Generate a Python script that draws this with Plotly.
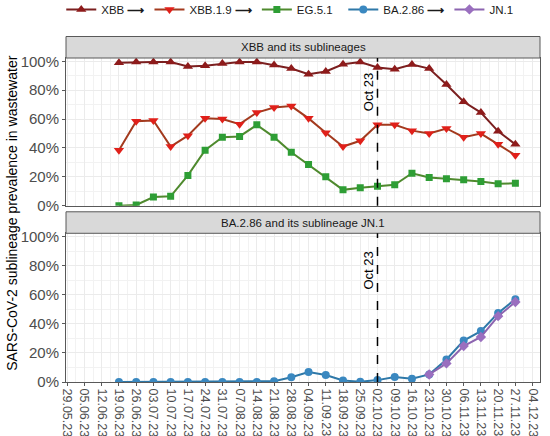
import plotly.graph_objects as go

# weekly sampling dates
dates = ["2023-06-19", "2023-06-26", "2023-07-03", "2023-07-10", "2023-07-17", "2023-07-24",
         "2023-07-31", "2023-08-07", "2023-08-14", "2023-08-21", "2023-08-28", "2023-09-04",
         "2023-09-11", "2023-09-18", "2023-09-25", "2023-10-02", "2023-10-09", "2023-10-16",
         "2023-10-23", "2023-10-30", "2023-11-06", "2023-11-13", "2023-11-20", "2023-11-27"]

# top panel: XBB and its sublineages (%)
xbb = [99, 99.5, 99.5, 99.5, 96.5, 97, 98.5, 99.5, 99.5, 97.5, 95, 91,
       93, 98, 99.5, 95.7, 94.5, 97.8, 95, 84, 72, 64.5, 51.5, 42.5]
xbb_1_9 = [38.5, 58.5, 59, 41, 48.5, 60.5, 60, 56.5, 64.5, 68, 69, 60.5,
           50.5, 41, 45, 56, 56, 52, 50, 53.5, 47.5, 50, 42.5, 35]
eg_5_1 = [0, 0.5, 6, 6.5, 21, 38.5, 47.5, 48, 56, 47.5, 37, 28.5,
          20, 11, 12.5, 13.5, 14.5, 22.5, 19.5, 18.7, 18, 16.8, 15.3, 15.5]

# bottom panel: BA.2.86 and JN.1 (%)
ba_2_86 = [0, 0, 0, 0, 0, 0, 0, 0, 0, 0.5, 3.3, 6.8,
           4.8, 1.1, 0.2, 1.3, 3.4, 2.2, 5.2, 15.5, 28.5, 35, 47.5, 57]
jn1_dates = dates[18:]
jn_1 = [5.2, 12.8, 24.7, 31, 45.3, 55]

oct_marker = "2023-10-02"
oct_label = "Oct 23"
strip_labels = ["XBB and its sublineages", "BA.2.86 and its sublineage JN.1"]
y_title = "SARS-CoV-2 sublineage prevalence in wastewater"

ARROW = " <b>⟶</b>"
FONT = "Liberation Sans, Arial, sans-serif"

series = [
    # name, x, y, line colour, marker colour, symbol, size, axis, legend
    ("XBB" + ARROW, dates, xbb, "#7B1F1F", "#8E1B1B", "triangle-up", 9, "1", "legend"),
    ("XBB.1.9" + ARROW, dates, xbb_1_9, "#A33A1E", "#E0201A", "triangle-down", 9, "1", "legend"),
    ("EG.5.1", dates, eg_5_1, "#4F8A2E", "#2E9E35", "square", 7, "1", "legend"),
    ("BA.2.86" + ARROW, dates, ba_2_86, "#2E78A8", "#3A88C0", "circle", 8, "2", "legend2"),
    ("JN.1", jn1_dates, jn_1, "#8C64B0", "#9A6FBF", "diamond", 8, "2", "legend2"),
]

fig = go.Figure()
for name, xs, ys, lc, mc, sym, size, ax, leg in series:
    fig.add_trace(go.Scatter(
        x=xs, y=ys, name=name, mode="lines+markers",
        line=dict(color=lc, width=2),
        marker=dict(color=mc, symbol=sym, size=size, line=dict(width=0)),
        xaxis="x" if ax == "1" else "x2", yaxis="y" if ax == "1" else "y2",
        legend=leg,
    ))

grid = "#EBEBEB"
border = "#595959"
tick_font = dict(family=FONT, size=12.5, color="#4D4D4D")

xcommon = dict(
    type="date", range=["2023-05-28 12:00", "2023-12-07"],
    tick0="2023-05-29", dtick=7 * 86400000, tickformat="%d.%m.%y",
    showgrid=True, gridcolor=grid, gridwidth=1,
    minor=dict(tick0="2023-05-29", dtick=3.5 * 86400000, showgrid=True,
               gridcolor="#F2F2F2", gridwidth=0.6, ticks=""),
    showline=True, mirror=True, linecolor=border, linewidth=1,
    zeroline=False,
)
ycommon = dict(
    range=[0, 102.3], tick0=0, dtick=20, ticksuffix="%",
    showgrid=True, gridcolor=grid, gridwidth=1,
    minor=dict(dtick=10, showgrid=True, gridcolor="#F2F2F2", gridwidth=0.6, ticks=""),
    ticks="outside", ticklen=3, tickcolor=border,
    showline=True, mirror=True, linecolor=border, linewidth=1,
    zeroline=False, tickfont=dict(family=FONT, size=15, color="#4D4D4D"),
)

top_dom = [0.544, 1.0]
bot_dom = [0.0, 0.459]

legend_font = dict(family=FONT, size=11.5, color="#1A1A1A")
fig.update_layout(
    width=550, height=436,
    margin=dict(l=66, r=10, t=58, b=54, autoexpand=False),
    paper_bgcolor="white", plot_bgcolor="white",
    font=dict(family=FONT, color="#1A1A1A"),
    xaxis=dict(xcommon, anchor="y", domain=[0, 1], showticklabels=False, ticks="", matches="x2"),
    xaxis2=dict(xcommon, anchor="y2", domain=[0, 1], ticks="outside", ticklen=3,
                tickcolor=border, tickangle=90, tickfont=tick_font),
    yaxis=dict(ycommon, anchor="x", domain=top_dom),
    yaxis2=dict(ycommon, anchor="x2", domain=bot_dom),
    legend=dict(orientation="h", x=-0.01, y=1.15, xanchor="left", yanchor="middle",
                bgcolor="rgba(0,0,0,0)", itemwidth=30, font=legend_font),
    legend2=dict(orientation="h", x=0.585, y=1.15, xanchor="left", yanchor="middle",
                 bgcolor="rgba(0,0,0,0)", itemwidth=30, font=legend_font),
    showlegend=True,
)

# facet strips
strip_h = 21.5 / 324
for label, dom in zip(strip_labels, [top_dom, bot_dom]):
    fig.add_shape(type="rect", xref="paper", yref="paper", x0=0, x1=1,
                  y0=dom[1], y1=dom[1] + strip_h,
                  fillcolor="#D9D9D9", line=dict(color=border, width=1))
    fig.add_annotation(text=label, xref="paper", yref="paper", x=0.5,
                       y=dom[1] + strip_h / 2, showarrow=False,
                       xanchor="center", yanchor="middle",
                       font=dict(family=FONT, size=11.5, color="#1A1A1A"))

# October marker in each panel
for xr, yr, ypos in [("x", "y", 79), ("x2", "y2", 77)]:
    fig.add_shape(type="line", xref=xr, yref=yr + " domain", x0=oct_marker, x1=oct_marker,
                  y0=0, y1=1, line=dict(color="black", width=1.5, dash="dash"))
    fig.add_annotation(text=oct_label, xref=xr, yref=yr, x=oct_marker, y=ypos,
                       xshift=-9, textangle=-90, showarrow=False,
                       xanchor="center", yanchor="middle",
                       font=dict(family=FONT, size=13, color="black"))

fig.add_annotation(text=y_title, xref="paper", yref="paper", x=-0.114, y=0.522,
                   textangle=-90, showarrow=False, xanchor="center", yanchor="middle",
                   font=dict(family=FONT, size=14, color="black"))

fig.write_html("out.html", config={"displayModeBar": False},
               post_script="document.body.style.margin='0px';")
